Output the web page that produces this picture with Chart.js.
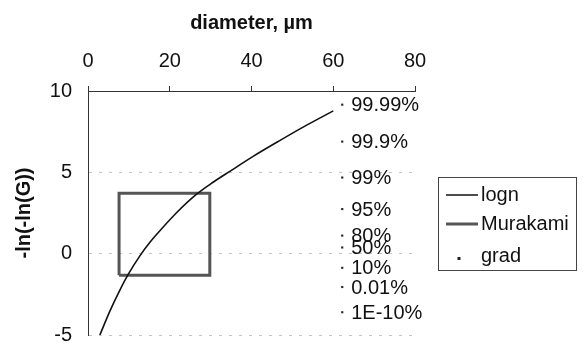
<!DOCTYPE html>
<html>
<head>
<meta charset="utf-8">
<script src="https://cdn.jsdelivr.net/npm/chart.js@4"></script>
<style>
  html, body { margin: 0; padding: 0; background: #fff; }
  #wrap { width: 585px; height: 363px; }
</style>
</head>
<body>
<div id="wrap"><canvas id="myChart" width="585" height="363"></canvas></div>
<script>
// logn curve
const lognX = [2.9, 5.3, 7.8, 9.8, 12.65, 15.1, 17.1, 21.6, 26.5, 30.6, 34.7, 40.4, 46.9, 53.5, 60];
const lognY = [-5, -3.56, -2.24, -1.29, -0.15, 0.68, 1.27, 2.5, 3.64, 4.39, 5.06, 5.98, 6.95, 7.9, 8.78];

// Murakami box corners
const murakamiX = [7.6, 29.8, 29.8, 7.6, 7.6];
const murakamiY = [-1.33, -1.33, 3.71, 3.71, -1.33];

// grad points + their labels
const gradLabels = ["99.99%", "99.9%", "99%", "95%", "80%", "50%", "10%", "0.01%", "1E-10%"];
const gradX = [62.2, 62.2, 62.2, 62.2, 62.2, 62.2, 62.2, 62.2, 62.2];
const gradY = [9.16, 6.89, 4.68, 2.74, 1.11, 0.38, -0.87, -2.05, -3.6];

const xTicks = [0, 20, 40, 60, 80];
const yTicks = [-5, 0, 5, 10];

const FONT = "'Liberation Sans', Arial, sans-serif";

const toPts = (xs, ys) => xs.map((x, i) => ({ x: x, y: ys[i] }));

const gradLabelPlugin = {
    id: 'gradLabels',
    afterDatasetsDraw(chart) {
        const ctx = chart.ctx;
        const meta = chart.getDatasetMeta(2);
        ctx.save();
        ctx.font = "20px " + FONT;
        ctx.fillStyle = "#111";
        ctx.textAlign = "left";
        ctx.textBaseline = "middle";
        meta.data.forEach((p, i) => {
            ctx.fillText(gradLabels[i], p.x + 9, p.y + 1);
        });
        ctx.restore();
    }
};

const legendPlugin = {
    id: 'boxLegend',
    afterDraw(chart) {
        const ctx = chart.ctx;
        ctx.save();
        ctx.strokeStyle = "#444";
        ctx.lineWidth = 1;
        ctx.strokeRect(438.5, 177.5, 138, 93);

        ctx.font = "20px " + FONT;
        ctx.fillStyle = "#111";
        ctx.textBaseline = "middle";
        ctx.textAlign = "left";

        ctx.strokeStyle = "#111";
        ctx.lineWidth = 1.5;
        ctx.beginPath(); ctx.moveTo(446, 195); ctx.lineTo(478, 195); ctx.stroke();
        ctx.fillText("logn", 481, 195);

        ctx.strokeStyle = "#555";
        ctx.lineWidth = 3;
        ctx.beginPath(); ctx.moveTo(446, 224); ctx.lineTo(478, 224); ctx.stroke();
        ctx.fillText("Murakami", 481, 224);

        ctx.fillStyle = "#222";
        ctx.fillRect(457.5, 257, 3, 3);
        ctx.fillStyle = "#111";
        ctx.fillText("grad", 481, 256);
        ctx.restore();
    }
};

new Chart(document.getElementById('myChart').getContext('2d'), {
    type: 'scatter',
    data: {
        datasets: [
            {
                label: 'Murakami',
                data: toPts(murakamiX, murakamiY),
                showLine: true,
                borderColor: '#555',
                borderWidth: 3,
                pointRadius: 0,
                tension: 0,
                order: 2
            },
            {
                label: 'logn',
                data: toPts(lognX, lognY),
                showLine: true,
                borderColor: '#111',
                borderWidth: 1.6,
                pointRadius: 0,
                cubicInterpolationMode: 'monotone',
                order: 1
            },
            {
                label: 'grad',
                data: toPts(gradX, gradY),
                showLine: false,
                pointStyle: 'rect',
                pointRadius: 1.5,
                backgroundColor: '#222',
                borderColor: '#222',
                borderWidth: 0,
                order: 0
            }
        ]
    },
    options: {
        responsive: false,
        animation: false,
        layout: { padding: { left: 0, top: 0, right: 170, bottom: 9 } },
        plugins: {
            legend: { display: false },
            tooltip: { enabled: false }
        },
        scales: {
            x: {
                type: 'linear',
                position: 'top',
                min: 0, max: 80,
                afterBuildTicks: s => { s.ticks = xTicks.map(v => ({ value: v })); },
                afterFit: s => { s.height = 91; },
                ticks: {
                    padding: 13,
                    color: '#111',
                    font: { family: FONT, size: 20 }
                },
                grid: {
                    drawOnChartArea: false,
                    drawTicks: true,
                    tickLength: 5,
                    tickColor: '#333',
                    tickWidth: 1
                },
                border: { display: true, color: '#333', width: 1 },
                title: {
                    display: true,
                    text: 'diameter, µm',
                    color: '#111',
                    font: { family: FONT, size: 20, weight: 'bold' },
                    padding: { top: 11, bottom: 0 }
                }
            },
            y: {
                type: 'linear',
                min: -5, max: 10,
                afterBuildTicks: s => { s.ticks = yTicks.map(v => ({ value: v })); },
                afterFit: s => { s.width = 88; },
                ticks: {
                    padding: 16,
                    color: '#111',
                    font: { family: FONT, size: 20 }
                },
                grid: {
                    drawTicks: false,
                    color: c => (c.tick && c.tick.value === 10) ? 'rgba(0,0,0,0)' : '#c4c4c4',
                    lineWidth: 1
                },
                border: { display: true, color: '#333', width: 1, dash: [3, 7] },
                title: {
                    display: true,
                    text: '-ln(-ln(G))',
                    color: '#111',
                    font: { family: FONT, size: 20, weight: 'bold' },
                    padding: { top: 12, bottom: 0 }
                }
            }
        }
    },
    plugins: [gradLabelPlugin, legendPlugin]
});
</script>
</body>
</html>
